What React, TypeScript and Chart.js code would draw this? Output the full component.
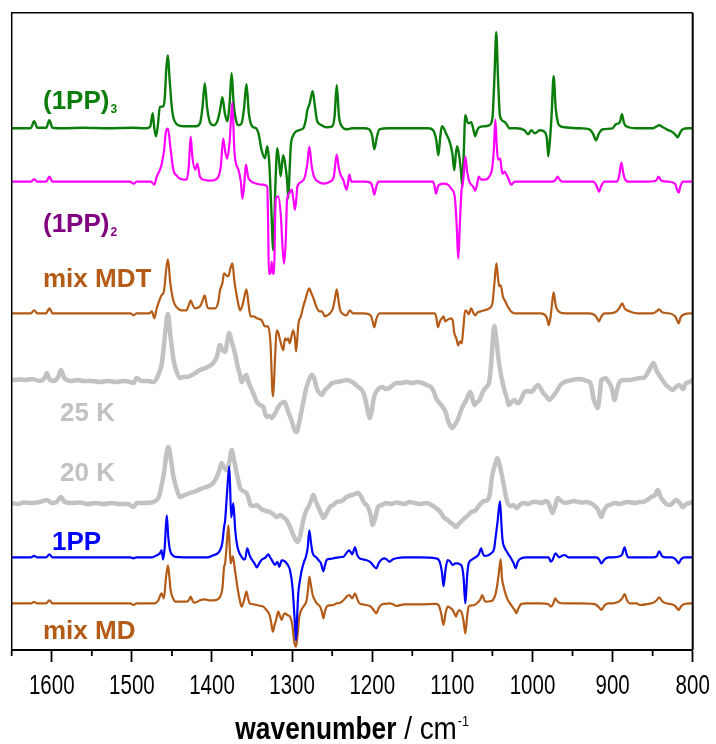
import React, { useEffect, useRef } from 'react';
import { Chart, registerables } from 'chart.js';

Chart.register(...registerables);

// x axis (wavenumber, cm-1), reversed
const X_MIN = 800;
const X_MAX = 1650;
const MAJOR_TICKS = [1600, 1500, 1400, 1300, 1200, 1100, 1000, 900, 800];
const MINOR_TICKS = [1650, 1550, 1450, 1350, 1250, 1150, 1050, 950, 850];
const TICK_LABELS = ['1600', '1500', '1400', '1300', '1200', '1100', '1000', '900', '800'];

// Spectra: [wavenumber, intensity (a.u., relative to each trace's own baseline)]
const TRIMER_1PP3 = [
  [1650, 0], [1630, 0], [1626, 0.5], [1622, 7], [1618, 0.5], [1607, 0.5], [1603, 8], [1599, 0.5], [1585, 0], [1560, 0.5],
  [1530, 0], [1500, 0.5], [1482, 0], [1477, 2], [1474, 15], [1472, 0], [1470, -8], [1468, 0], [1465, 21], [1461, 22],
  [1459, 30], [1457, 60], [1455, 73], [1453, 50], [1450, 20], [1448, 10], [1444, 4], [1435, 2], [1420, 2], [1415, 5],
  [1412, 20], [1409, 45], [1406, 20], [1402, 5], [1398, 3], [1393, 8], [1390, 18], [1387, 31], [1384, 15], [1381, 7],
  [1378, 25], [1375.5, 55], [1373, 25], [1370, 8], [1367, 3], [1363, 5], [1360, 20], [1357, 44], [1354, 15], [1350, 2],
  [1345, 0], [1342, -5], [1338, -22], [1334, -30], [1331, -18], [1328.5, -35], [1326, -80], [1323.5, -122], [1321, -60],
  [1318.5, -20], [1316, -35], [1314.3, -48], [1312.5, -35], [1311, -27], [1307.6, -42], [1306, -55], [1304.8, -70],
  [1303, -40], [1301.7, -18], [1298.5, -7], [1292, -2], [1286, 0], [1283, 8], [1281, 18], [1278, 25], [1276, 33],
  [1274.3, 37], [1272, 25], [1269, 8], [1267, 5], [1263, 3], [1258, 1], [1250, 2], [1247, 12], [1244.3, 43], [1241.5, 12],
  [1238, 2], [1232, -1], [1225, 0], [1210, 0], [1204, -1], [1200, -8], [1197.4, -21], [1194, -8], [1191, -1], [1180, 0],
  [1150, 0], [1130, 0], [1124, -2], [1120, -12], [1117.5, -27], [1115, -8], [1113, 2], [1110, -1], [1108, -5], [1104, -12],
  [1100, -25], [1097.6, -42], [1095.5, -25], [1094, -18], [1091, -30], [1089, -45], [1087.6, -58], [1086, -30], [1083.8, 13],
  [1081, 6], [1079.5, 5], [1076.5, 6], [1073.5, -2], [1071.5, -8], [1069, -2], [1066.4, 1], [1060, 2], [1054, 3], [1050, 10],
  [1047.5, 50], [1045.2, 96], [1043, 50], [1040.5, 12], [1036, 7], [1033, 5], [1029, 0], [1020, 0], [1010, -2], [1005.6, -6],
  [1001.5, -2], [997, -5], [991, -2], [986, -3], [982, -10], [980.3, -28], [978, -10], [976, 15], [973.6, 52], [971, 20],
  [968, 5], [966.5, 3], [960, 1], [940, 0], [929, -1], [924, -6], [920.8, -12], [917, -5], [912, -1], [900, 0], [896, 4],
  [891, 6], [888.3, 14], [886, 6], [883, 2], [870, 0], [850, 0], [845, 2], [841.8, 3], [837, 1], [830, -2], [827, -3],
  [822, -6], [818.8, -9], [815.5, -4], [812.5, -1], [805, 0], [800, 0],
];

const DIMER_1PP2 = [
  [1650, 0], [1626, 0], [1622, 2.5], [1618, 0], [1607, 0], [1603, 5], [1599, 0], [1580, 0], [1540, 0], [1502, 0],
  [1498, -2], [1494, 0], [1476, 0], [1472, -3], [1469, 5], [1466, 10], [1463, 17], [1460, 30], [1457.5, 50], [1455, 53],
  [1452, 35], [1448.3, 12], [1444, 6], [1440, 3], [1431.6, 2], [1429, 15], [1426.6, 45], [1424.5, 25], [1421, 12],
  [1418.3, 18], [1415, 5], [1410, 2], [1402.5, 1], [1396, 2], [1392, 5], [1389, 15], [1386, 43], [1383.5, 30], [1381, 23],
  [1378, 40], [1374.7, 79], [1372, 30], [1370, 18], [1367, 12], [1364, 0], [1362, -17], [1360, -5], [1357.6, 17],
  [1355, 5], [1353.4, 2], [1344, -2], [1336, -3], [1331, -5], [1330, -40], [1329, -92], [1327, -92], [1325.5, -80],
  [1324, -92], [1322.5, -92], [1321, -30], [1320, -16], [1317.3, -15], [1314, -35], [1312, -65], [1310, -82], [1308, -60],
  [1306.3, -18], [1303, -11], [1300.5, -8], [1298, -20], [1296.4, -28], [1294.5, -15], [1293.5, -5], [1288, 0], [1284, 5],
  [1281, 18], [1278.5, 35], [1275.5, 15], [1272.7, 5], [1267.4, 0], [1261, -2], [1252.7, 0], [1248, 5], [1244.3, 27],
  [1242, 15], [1240, 8], [1236.2, 2], [1232, -8], [1230, 0], [1228.6, 7], [1226, 0], [1210, 0], [1202, -1], [1199.5, -6],
  [1197.4, -13], [1195, -5], [1192, 0], [1180, 0], [1140, 0], [1124.5, 0], [1122, -5], [1120.4, -12], [1118, -5],
  [1116.4, -3], [1110, -2], [1104, -4], [1101.5, -7], [1097, -15], [1094.5, -45], [1092.6, -77], [1090.5, -40],
  [1088.5, -8], [1087.6, -5], [1086, 5], [1083.8, 25], [1081.5, 10], [1078.8, 0], [1074, -5], [1071.5, -9], [1069, -2],
  [1067, 5], [1064, 2], [1060, 2], [1054, 5], [1050, 15], [1048, 35], [1046.4, 62], [1044.5, 35], [1043, 22], [1040.2, 23],
  [1038.5, 12], [1037, 8], [1035, 10], [1033, 8], [1030, 3], [1026.8, -3], [1022, 0], [1000, 0], [975, 0], [971, 2],
  [968.6, 5], [966, 2], [962, 0], [940, 0], [924, 0], [920, -4], [917, -10], [914, -4], [910, 0], [895, 0], [892, 5],
  [889, 19], [886.5, 8], [884.8, 3], [880, 0], [860, 0], [846, 1], [842.6, 5], [839, 1], [830, 0], [822, -2], [819.5, -8],
  [817.5, -11], [815.5, -5], [812, 0], [800, 0],
];

const MIX_MDT = [
  [1650, 0], [1626, 0], [1622, 3], [1618, 0], [1607, 0], [1603, 5], [1599, 0], [1560, 0], [1520, 0], [1502, 0],
  [1498, -2], [1494, 0], [1478, 0], [1475, 2], [1472, -5], [1469, 5], [1466, 12], [1463, 18], [1460, 22], [1457, 45],
  [1455, 54], [1452, 30], [1448, 12], [1444, 6], [1438, 3], [1432, 3], [1429, 8], [1426.6, 13], [1424, 8], [1421, 5],
  [1415, 7], [1412, 12], [1409, 18], [1406.5, 8], [1404.6, 5], [1396, 5], [1392, 12], [1390, 23], [1387, 30], [1385, 40],
  [1382, 38], [1379.6, 37], [1377, 45], [1374.5, 50], [1372, 32], [1369, 17], [1366, 5], [1365, 3], [1362, 8], [1360, 15],
  [1357, 24], [1354.5, 10], [1352, -3], [1348, -3], [1344, -5], [1338, -7], [1334, -13], [1330, -13], [1327, -30],
  [1324, -83], [1321, -40], [1319.4, -17], [1317, -20], [1315, -27], [1313, -33], [1311, -37], [1309, -25], [1307, -27],
  [1305, -25], [1303, -30], [1300.5, -22], [1298.5, -17], [1296.5, -25], [1295, -38], [1293.5, -25], [1292, -10],
  [1289, -3], [1286, 7], [1283, 15], [1280.5, 22], [1278.5, 25], [1276, 20], [1274.3, 17], [1272, 12], [1270, 7],
  [1266, 2], [1263, 2], [1259, -3], [1256, -2], [1252.7, 0], [1249, 5], [1246.5, 15], [1244.3, 24], [1242, 12], [1240, 3],
  [1236, -1], [1232, -2], [1228, 3], [1224, 0], [1210, 0], [1202, -2], [1199.5, -8], [1197.4, -14], [1195, -6], [1191, 0],
  [1180, 0], [1150, 0], [1122, 0], [1120, -4], [1118, -14], [1115.5, -8], [1113, -5], [1111, -3], [1109, -8], [1105, -6],
  [1101.5, -5], [1099.6, -7], [1097.5, -20], [1095, -25], [1092.6, -32], [1090.4, -28], [1088.3, -30], [1086.3, -15],
  [1084, 3], [1081, 1], [1079.5, -1], [1076.6, 5], [1073.5, 0], [1071.3, -2], [1068.5, 1], [1066.3, 1.5], [1060, 3],
  [1054, 5], [1050, 10], [1047.5, 30], [1045, 50], [1043, 35], [1041.4, 27], [1039.5, 28], [1037, 17], [1034, 12],
  [1031, 7], [1027, 2], [1022.3, 0], [1000, 0], [990, 0], [984, -2], [981.5, -6], [979.7, -12], [977.5, -4], [975.5, 10],
  [973.6, 21], [971, 8], [968.6, 3], [960, 0], [930, 0], [924, -1], [920, -4], [917, -8], [914, -3], [910, 0], [903.7, 0],
  [895, 2], [891, 6], [888, 10], [885, 5], [879, 2], [870, 0], [850, 0], [845, 2], [841.8, 4], [838, 1], [830, 0],
  [822, -3], [819.5, -7], [817.5, -10], [815, -4], [810.5, -1], [800, 0],
];

const MATRIX_25K = [
  [1650, 0], [1640, 0.5], [1632, 0], [1625, 1], [1615, -1], [1609, 2], [1606, 7], [1603, 1], [1598, -1], [1592, 3],
  [1588.5, 10], [1585, 3], [1581, 0], [1575, -1], [1568, 0], [1560, -1], [1550, -1], [1540, -2], [1530, -1], [1520, -2],
  [1510, -1], [1502, -2], [1498, -3], [1494, 2], [1488, -1], [1480, -1], [1473, -2], [1467, 5], [1463, 15], [1461, 27],
  [1458, 50], [1455, 66], [1452, 45], [1448, 20], [1444, 8], [1440, 2], [1436, 3], [1431.6, 3], [1425, 5], [1415, 10],
  [1408, 12], [1398.4, 17], [1394, 23], [1390, 35], [1387, 30], [1383.8, 28], [1381, 38], [1378.4, 47], [1376, 40],
  [1373.4, 33], [1370, 22], [1368.4, 15], [1365, 5], [1363, -2], [1360, 2], [1357, 5], [1354.5, -2], [1352, -7],
  [1348, -14], [1344, -22], [1340, -25], [1336, -27], [1332, -37], [1328, -36], [1325.5, -38], [1321, -33], [1317.3, -27],
  [1313, -23], [1309, -22], [1306.5, -28], [1304.8, -32], [1300, -42], [1297, -50], [1294.3, -52], [1291, -42], [1288, -30],
  [1285, -18], [1282, -7], [1279, 0], [1275.6, 5], [1272.5, 2], [1269.3, -8], [1266, -13], [1263, -15], [1259, -10],
  [1255, -7], [1250, -3], [1244.3, -2], [1238, -1], [1232, 0], [1225, -2], [1217.4, -7], [1213, -10], [1210, -15],
  [1207, -25], [1204.5, -35], [1203, -38], [1201, -33], [1198, -18], [1195.3, -12], [1191, -8], [1187, -7], [1183, -9],
  [1178.7, -8], [1174, -5], [1170, -3], [1164, -3], [1158, -2], [1150, -3], [1144, -2], [1137.4, -3], [1132, -5],
  [1126.7, -7], [1123, -12], [1120.4, -18], [1116, -23], [1112, -27], [1108, -33], [1105.8, -40], [1102.5, -46],
  [1100.4, -48], [1098, -46], [1095.4, -43], [1092, -37], [1089, -30], [1085.5, -24], [1082.6, -20], [1080, -15],
  [1077.6, -12], [1075, -18], [1072.4, -25], [1069, -22], [1066, -20], [1062, -12], [1057.6, -7], [1054, -2], [1051.5, 17],
  [1049.5, 40], [1047.6, 54], [1045, 40], [1043, 25], [1041, 13], [1038, 0], [1035, -10], [1032, -18], [1029.6, -25],
  [1026, -22], [1022.3, -20], [1019, -23], [1016, -22], [1013, -17], [1010, -12], [1005, -11], [1001.5, -12], [997, -8],
  [993, -5], [990, -8], [987.4, -12], [983, -16], [979, -20], [975, -17], [970.4, -12], [966, -6], [962.3, -3], [956, -1],
  [950, 0], [943, 1], [937, 0.5], [932, -1], [928.6, -2], [926, -8], [924.3, -17], [921, -25], [918.6, -28], [916, -15],
  [914, 0], [911, 1], [909, 2], [905, -2], [901, -8], [897.6, -20], [894.5, -10], [891.3, -2], [886, 0], [879, 0],
  [872, 1], [866, 2], [862, 2], [857, 6], [853, 12], [849, 17], [845.5, 10], [841.8, 5], [837, -1], [833.3, -5],
  [829, -8], [825, -10], [821, -7], [816.8, -5], [812, -9], [808.4, -3], [804, -2], [800, 0],
];

const MATRIX_20K = [
  [1650, 0], [1642, -1], [1635, 0.5], [1625, 0], [1615, 1], [1606, 3], [1600, 0], [1594, 1], [1588.5, 6], [1584, 1],
  [1575, 0], [1565, 0.5], [1555, -1], [1545, 0], [1535, -1], [1525, 0], [1515, -1], [1505, -1], [1498, -4], [1494, 0],
  [1485, 0], [1473, 1], [1467, 5], [1465, 10], [1460, 30], [1457, 48], [1454.5, 56], [1451, 42], [1448, 26], [1444, 14],
  [1440, 6], [1434, 8], [1427.5, 10], [1420, 12], [1411, 15], [1404, 17], [1398.4, 20], [1393, 28], [1390, 35], [1388, 40],
  [1385, 36], [1381.7, 33], [1378, 42], [1375.5, 53], [1373, 45], [1370, 33], [1367, 22], [1365, 15], [1361, 12],
  [1357, 10], [1354.5, 5], [1352, -2], [1348, -3], [1344, -2], [1340, -5], [1336, -7], [1332, -8], [1327.6, -9],
  [1324, -11], [1319.4, -14], [1315, -12], [1311, -14], [1307, -17], [1302.6, -24], [1298, -33], [1295.5, -37], [1293, -39],
  [1290, -33], [1286, -17], [1283, -9], [1279.8, -4], [1276.5, 2], [1273.6, 8], [1270.5, 2], [1267.4, -4], [1264, -10],
  [1261, -15], [1257, -10], [1252.7, -4], [1248.5, -2], [1244.3, 1], [1238, 2], [1232, 6], [1225, 8], [1217.4, 10],
  [1213, 5], [1210, 0], [1206, -3], [1202, -12], [1199.4, -22], [1196, -14], [1193, -4], [1188, -2], [1182.8, 0],
  [1176, -1], [1170, 0.5], [1166, 0], [1160, -1], [1153.7, 1], [1147, 0], [1140, -1], [1132.7, 0], [1126, -2],
  [1120.4, -5], [1115, -9], [1111, -14], [1106, -17], [1101.5, -20], [1098, -22], [1095.4, -24], [1092, -21], [1087, -17],
  [1083, -14], [1080, -12], [1076.6, -9], [1072, -8], [1068, -4], [1064, 0], [1060, 2], [1056, 3], [1053, 10],
  [1050.6, 26], [1047, 38], [1043.8, 45], [1041, 38], [1037, 23], [1034, 10], [1031, 0], [1027, -3], [1024, -2],
  [1020, -5], [1016, -2], [1012, 0], [1005, -1], [1000, 1], [995, 1], [988, 0], [984, 2], [981, 1], [978, -4], [975, -10],
  [972, -4], [968.6, 5], [964, 2], [959, 0], [954, 1], [948, 2], [943, 1], [938, 0.5], [933, 1], [928, 0], [922, -3],
  [918, -7], [914, -14], [911, -8], [907, -3], [903.7, -2], [897, 0], [891, -1], [887, 0], [880, 1], [872, 0], [866, 1],
  [862, 1], [857, 3], [851.8, 6], [847, 8], [843.6, 13], [840, 6], [837.4, 3], [833, -1], [829, -2], [825, 0],
  [820.6, 3], [816, 0], [812.4, -4], [808, -1], [804, 0], [800, 1],
];

const MONOMER_1PP = [
  [1650, 0], [1626, 0], [1622, 1.5], [1618, 0], [1607, 0], [1603, 3], [1599, 0], [1560, 0], [1520, 0], [1502, 0],
  [1498, -1], [1494, 0], [1475, 0], [1469, 2], [1465, 4], [1463, 7], [1461, -2], [1459, 10], [1456.5, 42], [1454.5, 20],
  [1452.4, 7], [1449, 2], [1446, 0.5], [1420, 0], [1405, 0], [1398.4, 2], [1393, 4], [1390, 7], [1387, 15], [1385, 30],
  [1383.6, 37], [1381, 67], [1378.4, 91], [1376, 40], [1373.4, 54], [1371, 27], [1368.4, 11], [1365, 3], [1363, 0.5],
  [1360.5, -2], [1358.8, -2], [1356, 9], [1353, 2], [1350.5, -2], [1347, -6], [1344, -10], [1341, -6], [1338, -2.5],
  [1333, 0], [1329.7, 3], [1327.5, 0], [1325.5, -2.5], [1321.3, -7.5], [1318.5, -4.5], [1316, -9.5], [1313, -3],
  [1309, -4], [1306.8, -6], [1302.6, -13], [1299.5, -30], [1297, -60], [1295.2, -83], [1293.5, -55], [1292.3, -36],
  [1290, -22], [1288, -13], [1285, -4], [1282.7, 0.5], [1280.5, 10], [1278.5, 27], [1276.5, 15], [1274.3, 4], [1270, 0],
  [1267.4, -2.5], [1264, -6], [1261, -14], [1259, -8], [1256.8, -2.5], [1252, -1.5], [1248.6, -1], [1242, 0], [1236, 0.5],
  [1231, 5.5], [1228.6, 7], [1225, 3], [1221.5, 10], [1219, 3], [1216, -1], [1212, -2], [1208, -2.7], [1202, -5],
  [1198, -9], [1195, -11], [1192, -6], [1189, -2.7], [1185, -1], [1182, -2], [1178.7, -4.4], [1174, -2], [1170, -1],
  [1160, 0], [1140, 0], [1120.4, -1], [1116, -4], [1113, -15], [1111, -29], [1108.5, -12], [1105.8, -2.7], [1103, -4],
  [1099.6, -7.7], [1096, -6], [1093.4, -6], [1090.5, -7], [1088, -9.4], [1086, -20], [1083.8, -46], [1081.5, -18],
  [1079.6, -6], [1075, -2], [1070, 0.6], [1067, 3], [1064, 9], [1062, 4], [1060, 1.3], [1055, 2], [1051.5, 4], [1048, 8],
  [1046, 20], [1043.5, 36], [1040.6, 56], [1038.5, 30], [1037.3, 17], [1035, 10], [1033, 7], [1030, 3], [1026.8, -1],
  [1023.5, -6], [1021, -11], [1018.5, -5], [1016, -2], [1008, 0], [990, 0], [980, 0], [977, -4.4], [974, -1], [971.5, 4],
  [968, 1], [966.5, 0], [963, 1.5], [960, 2.3], [955, 0], [940, 0], [920, 0], [917, -2], [914, -6], [910, -2], [905, 0],
  [900, 0], [891, 1], [888, 3], [885, 10], [882.5, 3], [880.6, 0], [866, 0], [850, 0], [845, 1], [841.8, 6], [838, 1],
  [833.3, 0], [826, 0], [822, -1.5], [819.5, -4], [817.5, -6], [814.5, -2], [810.5, 0], [800, 0],
];

const MIX_MD = [
  [1650, 0], [1626, 0], [1622, 1.5], [1618, 0], [1607, 0], [1603, 3], [1599, 0], [1560, 0], [1520, 0], [1502, 0],
  [1498, -1.7], [1494, 0], [1472, 0], [1467, 3], [1463, 10], [1460, 5], [1457.5, 25], [1455, 38], [1453, 25],
  [1451.6, 13], [1448, 4], [1446, 1.6], [1431.6, 1.6], [1429, 3], [1426.6, 6.6], [1424, 2], [1421, 0.6], [1415, 3],
  [1409, 4], [1404, 3], [1398.4, 3], [1393, 4], [1390, 6.6], [1387, 15], [1385, 36], [1383.6, 40], [1381.5, 60],
  [1379.5, 78], [1377.5, 50], [1376.6, 40], [1374, 47], [1371.3, 33], [1369, 20], [1367, 10], [1365, 2], [1363, -3.4],
  [1360, 3], [1357, 11.6], [1355, 5], [1353, 0], [1348, -1], [1344, -1.7], [1340, -2.5], [1336, -3.4], [1332, -6.7],
  [1328, -12], [1326, -20], [1324, -28.4], [1322, -22], [1320, -16.7], [1317.3, -8.4], [1315, -13], [1313, -16.7],
  [1311, -12], [1308.9, -10], [1305.5, -12], [1302.6, -13.4], [1299.5, -23], [1297.5, -38], [1295.2, -43.4], [1293, -30],
  [1291, -13.4], [1288, -6], [1286, -3.4], [1281.8, 3.3], [1280, 15], [1278.5, 26.6], [1276.5, 18], [1274.3, 8.3],
  [1271.5, 3], [1269.3, 0], [1265, -3.4], [1263, -8], [1261, -15], [1259, -8], [1256.8, -3.4], [1252.7, -2],
  [1248.6, -1.7], [1244.3, 0], [1240, 0.6], [1236, 3], [1232, 6.6], [1228.6, 8.3], [1225, 5], [1221.5, 10], [1219, 5],
  [1216, 0], [1212, -1], [1208, -1.7], [1202, -3], [1198, -7], [1195, -10], [1192, -5], [1189, -1.7], [1184, -0.5],
  [1178.7, 0], [1174, -1], [1170, -2.7], [1160, -1], [1140, -1], [1120.4, -0.6], [1117, -2], [1114, -10], [1111, -21.7],
  [1108.5, -10], [1105.8, -3.4], [1102, -5], [1099.6, -6.7], [1097.5, -10], [1095.4, -13.4], [1093.5, -9], [1091.3, -6.7],
  [1089.5, -8], [1088, -10], [1086, -18], [1083.8, -30], [1081.5, -13], [1079.6, -3.4], [1076, -2], [1072.4, -1.7],
  [1068, 1], [1065, 4], [1062.7, 8.3], [1060, 3], [1057.6, 1.6], [1053, 2], [1049.3, 3.3], [1046.5, 8], [1044.3, 16.6],
  [1042, 30], [1039.7, 44], [1038, 25], [1036, 16.6], [1033, 8], [1030.7, 3.3], [1028, 0], [1025.2, -3.4], [1022, -7],
  [1020, -10], [1017.5, -5], [1014, -0.7], [1008, 0], [990, 0], [980, -1], [977, -3.4], [974, 0], [971.5, 5], [969, 2],
  [966.5, 0.6], [960, 0], [940, 0], [924, -0.5], [920.7, -1.5], [917, -4], [914, -6.7], [910, -2], [905, 0], [900, 0],
  [894, 1], [891, 2.5], [888, 5], [885, 9.3], [882, 3], [878.7, 0], [870, 0], [866, -1.7], [855, -0.5], [848, 1], [845, 3],
  [841.8, 6], [838, 2], [833.3, 0], [826, -1], [822, -2.5], [819.5, -5], [817.5, -6.7], [814.5, -3], [810.5, -0.7], [800, 0],
];

// vertical stacking offsets of the traces (a.u.)
const SERIES_NAMES = ['(1PP)2', '(1PP)3', '1PP', 'mix MD', '20 K', 'mix MDT', '25 K'];
const SERIES_DATA = [DIMER_1PP2, TRIMER_1PP3, MONOMER_1PP, MIX_MD, MATRIX_20K, MIX_MDT, MATRIX_25K];
const SERIES_OFFSETS = [468.3, 521.7, 92.7, 46.7, 147, 336.7, 270];
const Y_MIN = 0;
const Y_MAX = 637.3;

const GREEN = '#0b7d0b';
const MAGENTA = '#ff00ff';
const BROWN = '#b35b17';
const GRAY = '#c2c2c2';
const BLUE = '#0000ff';
const PURPLE = '#800080';
const SERIES_COLORS = [MAGENTA, GREEN, BLUE, BROWN, GRAY, BROWN, GRAY];
const SERIES_WIDTHS = [2.2, 2.4, 2.2, 2.2, 4.5, 2.2, 4.5];

const SANS = '"Liberation Sans", Arial, sans-serif';

// in-plot trace labels: [text, subscript, color, x px, baseline px]
const TRACE_LABELS: [string, string, string, number, number][] = [
  ['(1PP)', '3', GREEN, 43, 108.5],
  ['(1PP)', '2', PURPLE, 43, 231.5],
  ['mix MDT', '', BROWN, 43, 286.5],
  ['25 K', '', GRAY, 60, 421],
  ['20 K', '', GRAY, 60, 481],
  ['1PP', '', BLUE, 52, 550],
  ['mix MD', '', BROWN, 43, 639],
];

function condensedText(ctx: any, text: string, x: number, y: number, sx: number, align: string) {
  ctx.save();
  ctx.translate(x, y);
  ctx.scale(sx, 1);
  ctx.textAlign = align;
  ctx.fillText(text, 0, 0);
  ctx.restore();
}

const overlayPlugin = {
  id: 'overlay',
  afterDraw(chart: any) {
    const { ctx, chartArea: a, scales } = chart;
    const x = scales.x;
    ctx.save();
    ctx.strokeStyle = '#000';
    ctx.lineCap = 'butt';
    // frame: left + top + right
    ctx.lineWidth = 1.5;
    ctx.beginPath();
    ctx.moveTo(a.left, a.bottom);
    ctx.lineTo(a.left, a.top);
    ctx.lineTo(a.right, a.top);
    ctx.stroke();
    ctx.lineWidth = 2;
    ctx.beginPath();
    ctx.moveTo(a.right, a.top);
    ctx.lineTo(a.right, a.bottom);
    ctx.stroke();
    // minor ticks
    ctx.lineWidth = 1.8;
    for (const v of MINOR_TICKS) {
      const px = x.getPixelForValue(v);
      ctx.beginPath();
      ctx.moveTo(px, a.bottom);
      ctx.lineTo(px, a.bottom + 6);
      ctx.stroke();
    }
    // tick labels (condensed face)
    ctx.fillStyle = '#000';
    ctx.textBaseline = 'alphabetic';
    ctx.font = `27px ${SANS}`;
    MAJOR_TICKS.forEach((v, i) => {
      condensedText(ctx, TICK_LABELS[i], x.getPixelForValue(v), a.bottom + 43.5, 0.76, 'center');
    });
    // trace labels
    ctx.textAlign = 'left';
    for (const [t, sub, color, lx, ly] of TRACE_LABELS) {
      ctx.fillStyle = color;
      ctx.font = `bold 26px ${SANS}`;
      ctx.fillText(t, lx, ly);
      if (sub) {
        const w = ctx.measureText(t).width;
        ctx.font = `bold 12px ${SANS}`;
        ctx.fillText(sub, lx + w + 1, ly + 4.5);
      }
    }
    // axis title
    const cx = (a.left + a.right) / 2;
    const by = 739;
    ctx.fillStyle = '#000';
    const p1 = 'wavenumber';
    const p2 = ' / cm';
    const p3 = '-1';
    const s1 = 0.85;
    ctx.font = `bold 31px ${SANS}`;
    const w1 = ctx.measureText(p1).width * s1;
    ctx.font = `31px ${SANS}`;
    const w2 = ctx.measureText(p2).width * 0.9;
    ctx.font = `14px ${SANS}`;
    const w3 = ctx.measureText(p3).width * 0.9;
    let sx = cx - (w1 + w2 + w3 + 1) / 2;
    ctx.font = `bold 31px ${SANS}`;
    condensedText(ctx, p1, sx, by, s1, 'left');
    sx += w1;
    ctx.font = `31px ${SANS}`;
    condensedText(ctx, p2, sx, by, 0.9, 'left');
    sx += w2 + 1;
    ctx.font = `14px ${SANS}`;
    condensedText(ctx, p3, sx, by - 13, 0.9, 'left');
    ctx.restore();
  },
};

export default function App() {
  const ref = useRef<HTMLCanvasElement | null>(null);
  useEffect(() => {
    if (!ref.current) return;
    const datasets = SERIES_DATA.map((pts, i) => ({
      label: SERIES_NAMES[i],
      data: pts.map(([wn, v]) => ({ x: wn, y: SERIES_OFFSETS[i] + v })),
      borderColor: SERIES_COLORS[i],
      backgroundColor: SERIES_COLORS[i],
      borderWidth: SERIES_WIDTHS[i],
      pointRadius: 0,
      fill: false,
      cubicInterpolationMode: 'monotone' as const,
      borderJoinStyle: 'round' as const,
      borderCapStyle: 'round' as const,
    }));
    const chart = new Chart(ref.current, {
      type: 'line',
      data: { datasets },
      options: {
        animation: false,
        responsive: false,
        devicePixelRatio: 1,
        layout: { padding: { left: 11.7, right: 23.3, top: 12.7, bottom: 0 } },
        plugins: { legend: { display: false }, tooltip: { enabled: false }, title: { display: false } },
        scales: {
          x: {
            type: 'linear',
            reverse: true,
            min: X_MIN,
            max: X_MAX,
            afterFit: (scale: any) => { scale.height = 94; },
            border: { display: true, color: '#000', width: 2 },
            grid: {
              display: true,
              drawOnChartArea: false,
              drawTicks: true,
              tickLength: 12,
              tickWidth: 1.8,
              tickColor: (c: any) => (c.tick && MAJOR_TICKS.includes(c.tick.value) ? '#000' : 'rgba(0,0,0,0)'),
            },
            ticks: {
              display: false,
              stepSize: 50,
              autoSkip: false,
              maxRotation: 0,
              minRotation: 0,
            },
          },
          y: { display: false, min: Y_MIN, max: Y_MAX },
        },
      },
      plugins: [overlayPlugin],
    });
    return () => chart.destroy();
  }, []);
  return (
    <div style={{ position: 'fixed', left: 0, top: 0, width: 716, height: 744, background: '#fff' }}>
      <canvas ref={ref} width={716} height={744} style={{ width: 716, height: 744, display: 'block' }} />
    </div>
  );
}
